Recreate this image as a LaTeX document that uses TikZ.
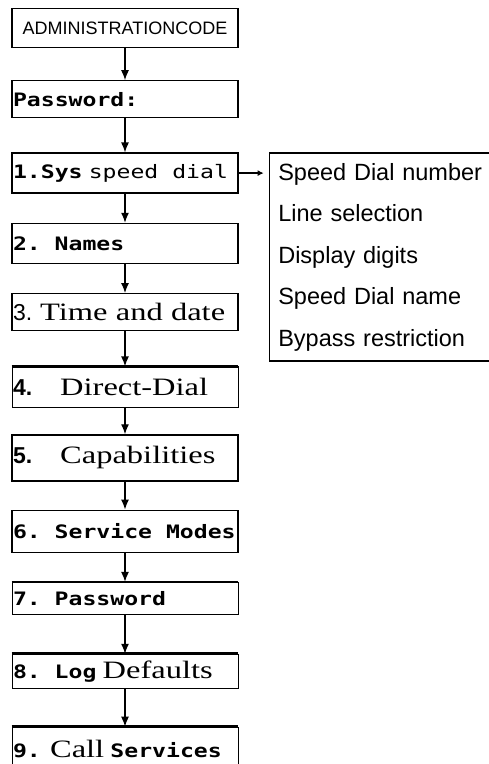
\documentclass[tikz,border=0pt]{standalone}
\usepackage{fontspec}
\newfontfamily\lcdfont[FakeStretch=1.25]{DejaVu Sans Mono}
\newfontfamily\arialfont[WordSpace=3]{Liberation Sans}
\newfontfamily\timesfont[FakeStretch=1.3]{Liberation Serif}
\usetikzlibrary{positioning,arrows.meta}
\newcommand{\lcdbase}{\lcdfont\fontsize{18.5}{20}\selectfont
  \spaceskip=.75em\xspaceskip=.75em\relax}
\newcommand{\lcd}[1]{{\lcdbase\bfseries #1}}
\newcommand{\lcdthin}[1]{{\lcdbase #1}}
\newcommand{\tms}[1]{{\timesfont\fontsize{25}{28}\selectfont
  \spaceskip=.33em\xspaceskip=.33em\relax #1}}
\newcommand{\snum}[1]{{\arialfont\fontsize{23}{25}\selectfont #1}}
\newcommand{\bnum}[1]{{\arialfont\bfseries\fontsize{23}{25}\selectfont #1}}
\tikzset{
  menu/.style   ={rectangle, draw=black, line width=1.3pt, align=left,
                  minimum width=226pt, text width=224pt, inner xsep=1pt,
                  inner ysep=0pt, font=\lcdbase},
  topbar/.style ={menu, line width=0.9pt, append after command={
                  (\tikzlastnode.north west) edge[line width=2.6pt]
                  (\tikzlastnode.north east)}},
  optbox/.style ={rectangle, draw=black, line width=1.3pt, align=left,
                  anchor=north west, minimum width=232pt, minimum height=208pt,
                  text width=214pt, inner xsep=8pt,
                  font=\arialfont\fontsize{23.5}{41.5}\selectfont},
  arr/.style    ={-{Latex[length=10pt,width=8pt]}, line width=1.3pt},
}

\begin{document}
\begin{tikzpicture}[x=1pt, y=1pt, node distance=30pt]
  \useasboundingbox (0,0) rectangle (488,-764);

  \node[menu, align=center, minimum height=39pt] (admin) at (125,-28)
    {{\arialfont\fontsize{18}{20}\selectfont ADMINISTRATIONCODE}};
  \node[menu, below=32pt of admin, minimum height=37pt] (pw) {\lcd{Password:}};
  \node[menu, below=34pt of pw, minimum height=40pt] (sys)
    {\lcd{1.Sys} \lcdthin{speed dial}};
  \node[menu, below=29pt of sys, minimum height=40pt] (names) {\lcd{2. Names}};
  \node[menu, below=29pt of names, minimum height=37pt] (time)
    {\snum{3.}\hspace{8pt}\tms{Time and date}};
  \node[topbar, below=35pt of time, minimum height=41pt] (direct)
    {\bnum{4.}\hspace{28pt}\tms{Direct-Dial}};
  \node[menu, below=26pt of direct, minimum height=46pt] (capab)
    {\bnum{5.}\hspace{28pt}\tms{Capabilities}};
  \node[menu, below=28pt of capab, minimum height=42pt] (svc)
    {\lcd{6. Service Modes}};
  \node[topbar, below=29pt of svc, minimum height=32pt] (pwd)
    {\lcd{7. Password}};
  \node[topbar, below=39pt of pwd, minimum height=34pt] (logdef)
    {\lcd{8. Log} \tms{Defaults}};
  \node[topbar, below=38pt of logdef, minimum height=44pt] (call)
    {\lcd{9.} \tms{Call} \lcd{Services}};

  % sub menu of 1.Sys speed dial
  \node[optbox] (opts) at ([xshift=30pt]sys.north east)
    {Speed Dial number\\Line selection\\Display digits\\Speed Dial name\\Bypass restriction};

  \foreach \a/\b in {admin/pw, pw/sys, sys/names, names/time, time/direct,
                     direct/capab, capab/svc, svc/pwd, pwd/logdef, logdef/call}
    {\draw[arr] (\a) -- (\b);}
  \draw[-{Latex[length=6pt,width=6pt]}, line width=1.3pt, shorten >=5pt]
    (sys.east) -- (opts.west |- sys.east);
\end{tikzpicture}
\end{document}
